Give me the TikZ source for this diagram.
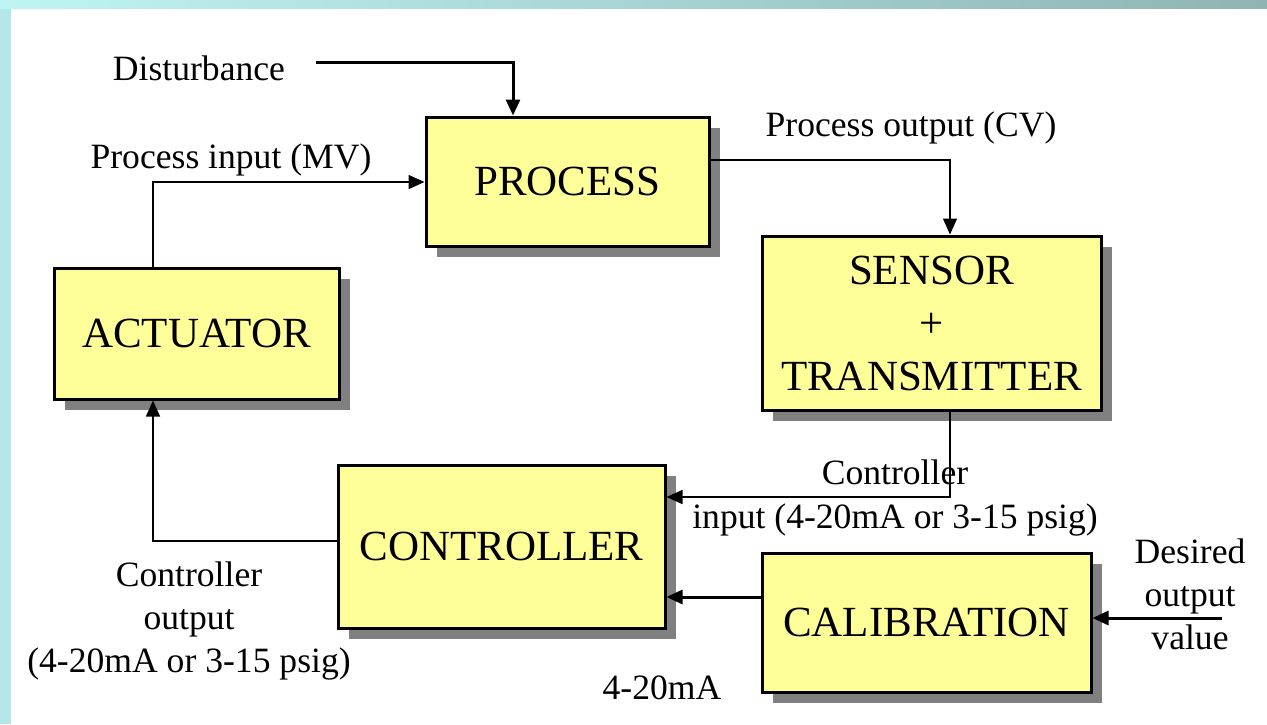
\documentclass[tikz,border=0pt]{standalone}
\usepackage{fontspec}
\setmainfont{Liberation Serif}
\usetikzlibrary{arrows.meta,shadows}
\definecolor{boxfill}{RGB}{255,255,153}
\definecolor{shadowgray}{RGB}{128,128,128}
\definecolor{stripL}{RGB}{180,232,232}
\definecolor{stripA}{RGB}{192,244,244}
\definecolor{stripB}{RGB}{143,180,180}
\tikzset{
  blockbox/.style={draw=black, line width=3pt, fill=boxfill, inner sep=0pt,
    align=center, font=\fontsize{43}{53}\selectfont,
    drop shadow={shadow xshift=11pt, shadow yshift=-11pt, fill=shadowgray, opacity=1}},
  lbl/.style={inner sep=0pt, align=center, font=\fontsize{35.6}{43}\selectfont},
  thinarrow/.style={line width=1.5pt, -{Triangle[length=16pt,width=14pt]}},
  thickarrow/.style={line width=3pt, -{Triangle[length=16pt,width=14pt]}},
}
\begin{document}
\begin{tikzpicture}[x=1pt,y=-1pt]
\useasboundingbox (0,0) rectangle (1267,724);
\fill[white] (0,0) rectangle (1267,724);
\fill[stripL] (0,0) rectangle (11,724);
\shade[left color=stripA, right color=stripB] (0,0) rectangle (1267,8);

\node[blockbox, minimum width=283pt, minimum height=129pt] (process) at (567.5,181.5) {PROCESS};
\node[blockbox, minimum width=339pt, minimum height=174pt] (sensor) at (931.5,323) {SENSOR\\+\\TRANSMITTER};
\node[blockbox, minimum width=285pt, minimum height=131pt] (actuator) at (196.5,333.5) {ACTUATOR};
\node[blockbox, minimum width=327pt, minimum height=163pt] (controller) at (501.5,546.5) {CONTROLLER};
\node[blockbox, minimum width=329pt, minimum height=139pt] (calibration) at (926.5,622.5) {CALIBRATION};

\node[lbl] (dist) at (199,68) {Disturbance};
\node[lbl] (pin) at (231,160) {Process input (MV)};
\node[lbl] (pout) at (911,128) {Process output (CV)};
\node[lbl] (cin1) at (895,472) {Controller};
\node[lbl] (cin2) at (895,520) {input (4-20mA or 3-15 psig)};
\node[lbl] (cout) at (189,621) {Controller\\output\\(4-20mA or 3-15 psig)};
\node[lbl] (desired) at (1190,594) {Desired\\output\\value};
\node[lbl] (ma) at (662,688) {4-20mA};

\coordinate (dstart) at (316,62);
\coordinate (dx) at (513,62);
\coordinate (a1) at (153,182);
\coordinate (s1) at (950,160);
\coordinate (c1) at (950,497);
\coordinate (c2) at (153,541);
\coordinate (k) at (700,597);
\coordinate (d) at (1222,618);

\draw[thickarrow] (dstart) -- (dx) -- (dx |- process.north);
\draw[thinarrow] (a1 |- actuator.north) -- (a1) -- (a1 -| process.west);
\draw[thinarrow] (s1 -| process.east) -- (s1) -- (s1 |- sensor.north);
\draw[thinarrow] (c1 |- sensor.south) -- (c1) -- (c1 -| controller.east);
\draw[thinarrow] (c2 -| controller.west) -- (c2) -- (c2 |- actuator.south);
\draw[thickarrow] (k -| calibration.west) -- (k -| controller.east);
\draw[thickarrow] (d) -- (d -| calibration.east);
\end{tikzpicture}
\end{document}
